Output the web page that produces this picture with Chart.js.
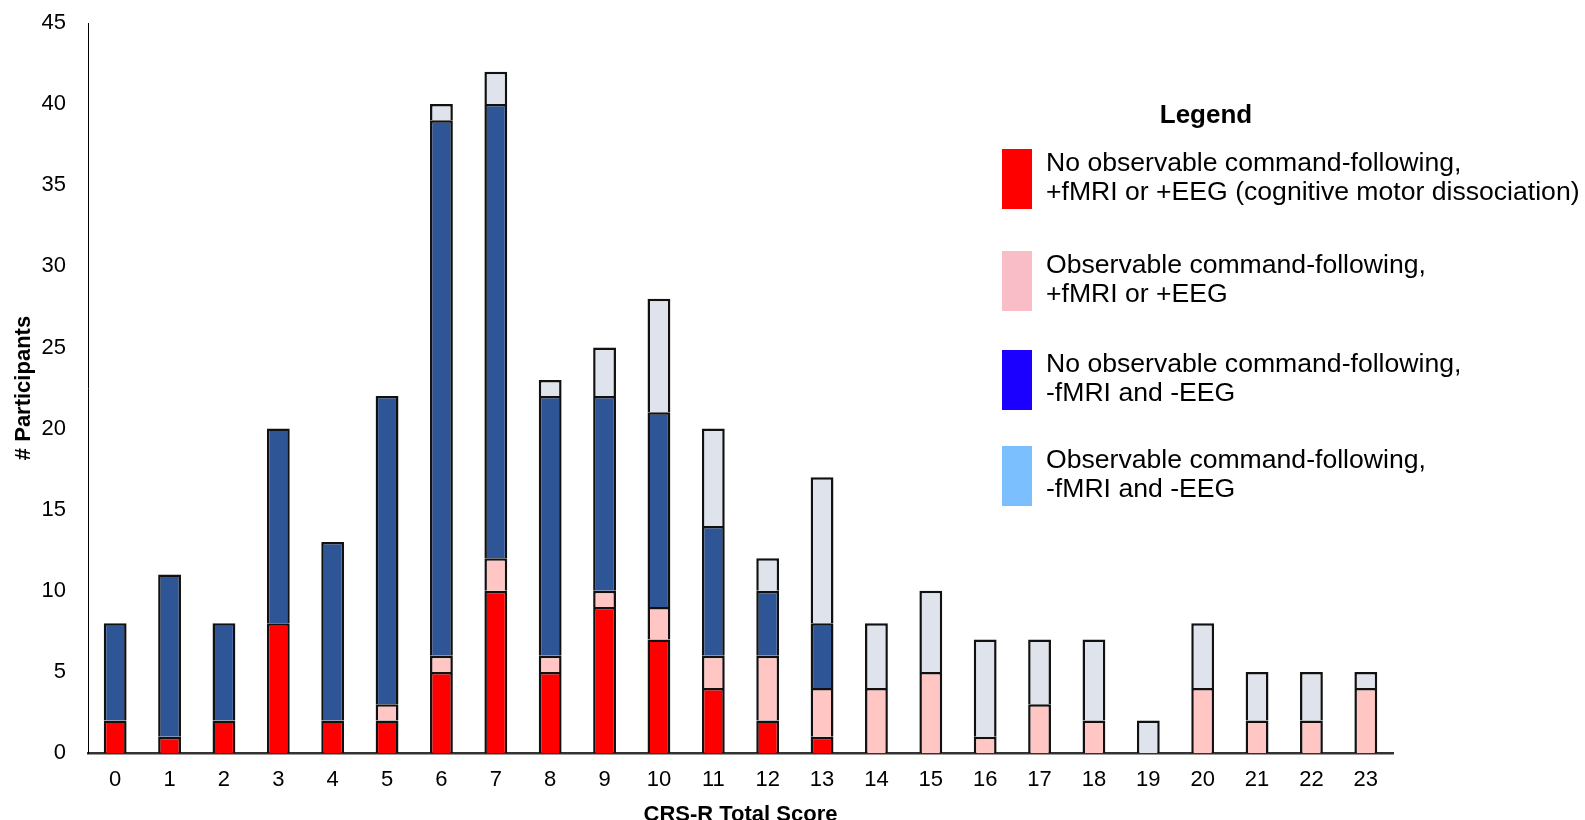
<!DOCTYPE html>
<html>
<head>
<meta charset="utf-8">
<script src="https://cdn.jsdelivr.net/npm/chart.js@4/dist/chart.umd.min.js"></script>
<style>
  html, body { margin: 0; padding: 0; background: #fff; }
  #wrap { position: relative; width: 1585px; height: 820px; overflow: hidden; }
  #c { position: absolute; left: 0; top: 0; }
  .lg { position: absolute; font-family: "Liberation Sans", Arial, sans-serif; color: #000; }
  .lg-title { font-weight: bold; font-size: 26px; line-height: 30px; left: 1106px; width: 200px; top: 99px; text-align: center; }
  .sw { position: absolute; left: 1002px; width: 30px; height: 60px; }
  .lt { position: absolute; left: 1046px; font-size: 26.6px; line-height: 29px; white-space: nowrap; font-family: "Liberation Sans", Arial, sans-serif; }
</style>
</head>
<body>
<div id="wrap">
  <canvas id="c" width="1585" height="820"></canvas>
  <div id="legend"></div>
</div>
<script>
// Categories: CRS-R total score
const scores = ['0','1','2','3','4','5','6','7','8','9','10','11','12','13','14','15','16','17','18','19','20','21','22','23'];

// Series values (counts per segment)
const noCmdPositive  = [2,1,2,8,2,2,5,10,5,9,7,4,2,1,0,0,0,0,0,0,0,0,0,0];   // red
const cmdPositive    = [0,0,0,0,0,1,1,2,1,1,2,2,4,3,4,5,1,3,2,0,4,2,2,4];    // pink
const noCmdNegative  = [6,10,6,12,11,19,33,28,16,12,12,8,4,4,0,0,0,0,0,0,0,0,0,0]; // dark blue
const cmdNegative    = [0,0,0,0,0,0,1,2,1,3,7,6,2,9,4,5,6,4,5,2,4,3,3,1];    // light grey-blue

// Y tick labels
const yTicks = [0,5,10,15,20,25,30,35,40,45];

// Legend
const legendTitle = 'Legend';
const legendItems = [
  ['No observable command-following,', '+fMRI or +EEG (cognitive motor dissociation)'],
  ['Observable command-following,', '+fMRI or +EEG'],
  ['No observable command-following,', '-fMRI and -EEG'],
  ['Observable command-following,', '-fMRI and -EEG']
];
const legendColors = ['#ff0000', '#f9bdc8', '#1b00ff', '#7bbffe'];
const legendTops = [149, 251, 350, 446];

const barColors = ['#ff0000', '#ffc6c3', '#2e5596', '#dfe4ec'];
const seriesList = [noCmdPositive, cmdPositive, noCmdNegative, cmdNegative];

const datasets = seriesList.map((arr, i) => ({
  label: legendItems[i].join(' '),
  data: arr.map(v => v === 0 ? null : v),
  backgroundColor: barColors[i],
  borderColor: '#111111',
  borderWidth: { top: 2.5, left: 2.5, right: 2.5, bottom: 0 },
  borderSkipped: false,
  categoryPercentage: 1,
  barPercentage: 0.42,
  stack: 's'
}));

const FONT = '"Liberation Sans", Arial, sans-serif';

new Chart(document.getElementById('c'), {
  type: 'bar',
  data: { labels: scores, datasets },
  options: {
    responsive: false,
    animation: false,
    devicePixelRatio: 1,
    layout: { padding: { top: 23, right: 192, left: 0, bottom: 0 } },
    plugins: { legend: { display: false }, tooltip: { enabled: false } },
    scales: {
      x: {
        stacked: true,
        grid: { display: false, drawTicks: false },
        border: { display: true, color: '#333', width: 2.5 },
        ticks: { color: '#000', font: { family: FONT, size: 22 }, padding: 14, autoSkip: false, maxRotation: 0 },
        title: { display: true, text: 'CRS-R Total Score', color: '#000', font: { family: FONT, size: 22, weight: 'bold', lineHeight: 1 }, padding: { top: 0, bottom: -6 } },
        afterFit: s => { s.height = 67; }
      },
      y: {
        stacked: true,
        min: 0, max: 45,
        afterBuildTicks: s => { s.ticks = yTicks.map(v => ({ value: v })); },
        grid: { display: false, drawTicks: false },
        border: { display: true, color: '#000', width: 1 },
        ticks: { color: '#000', font: { family: FONT, size: 22 }, padding: 22 },
        title: { display: true, text: '# Participants', color: '#000', font: { family: FONT, size: 22, weight: 'bold', lineHeight: 1 }, padding: { top: 13, bottom: 0 } },
        afterFit: s => { s.width = 88; s.paddingTop = 0; s.paddingBottom = 0; }
      }
    }
  }
});

// HTML legend
const lg = document.getElementById('legend');
const t = document.createElement('div');
t.className = 'lg lg-title';
t.textContent = legendTitle;
lg.appendChild(t);
legendItems.forEach((lines, i) => {
  const sw = document.createElement('div');
  sw.className = 'sw';
  sw.style.top = legendTops[i] + 'px';
  sw.style.background = legendColors[i];
  lg.appendChild(sw);
  const tx = document.createElement('div');
  tx.className = 'lt';
  tx.style.top = (legendTops[i] - 1) + 'px';
  tx.innerHTML = lines.map(l => l.replace(/&/g,'&amp;').replace(/</g,'&lt;')).join('<br>');
  lg.appendChild(tx);
});
</script>
</body>
</html>
